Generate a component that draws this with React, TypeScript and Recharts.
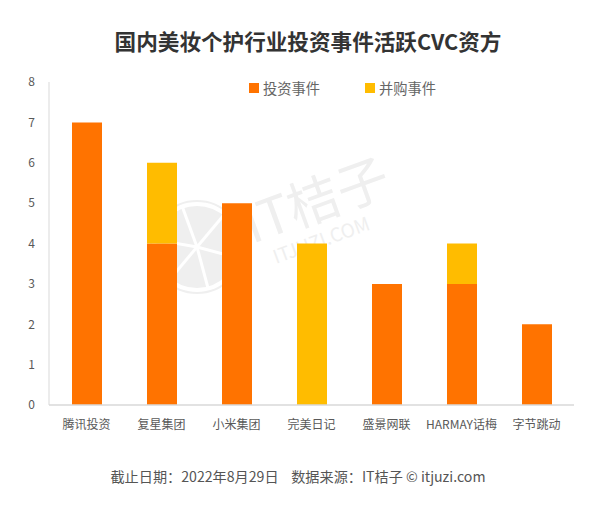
import React from "react";
import { BarChart, Bar, XAxis, YAxis } from "recharts";

const categories = ["腾讯投资", "复星集团", "小米集团", "完美日记", "盛景网联", "HARMAY话梅", "字节跳动"];
const investValues = [7, 4, 5, 0, 3, 3, 2];
const acquireValues = [0, 2, 0, 4, 0, 1, 0];
const yTicks = [0, 1, 2, 3, 4, 5, 6, 7, 8];
const seriesNames = ["投资事件", "并购事件"];
const seriesColors = ["#FF7300", "#FFBC00"];
const titleText = "国内美妆个护行业投资事件活跃CVC资方";
const footerText = "截止日期：2022年8月29日    数据来源：IT桔子 © itjuzi.com";
const watermarkMain = "IT桔子";
const watermarkSub = "ITJUZI.COM";
const wedgeAngles = [15, 75, 130, 190, 250, 310];

const data = categories.map((name, i) => ({ name, invest: investValues[i], acquire: acquireValues[i] }));
const font = "'Noto Sans CJK SC','Noto Sans',sans-serif";
const axisText = { fontSize: 12, fill: "#595959", fontFamily: font };

function Watermark() {
  const cx = 197, cy = 247;
  return (
    <svg width={602} height={517} style={{ position: "absolute", left: 0, top: 0 }}>
      <circle cx={cx} cy={cy} r={46} fill="none" stroke="#efefef" strokeWidth={2} />
      <circle cx={cx} cy={cy} r={41} fill="#efefef" />
      {wedgeAngles.map((a) => (
        <line key={a} x1={cx} y1={cy} x2={cx + 44 * Math.cos((a * Math.PI) / 180)} y2={cy + 44 * Math.sin((a * Math.PI) / 180)} stroke="#fff" strokeWidth={3} />
      ))}
      <text x={252} y={244} fontSize={52} fill="#efefef" fontFamily={font} transform="rotate(-20 252 244)">{watermarkMain}</text>
      <text x={276} y={264} fontSize={19} fill="#efefef" fontFamily={font} transform="rotate(-20 276 264)">{watermarkSub}</text>
    </svg>
  );
}

export default function App() {
  return (
    <div style={{ position: "absolute", left: 0, top: 0, width: 602, height: 517, background: "#fff", fontFamily: font, overflow: "hidden" }}>
      <Watermark />
      <div style={{ position: "absolute", left: 7, width: 602, top: 26, textAlign: "center", fontSize: 21.6, fontWeight: 700, color: "#333", lineHeight: "30px", whiteSpace: "nowrap" }}>{titleText}</div>
      <div style={{ position: "absolute", left: -3, width: 602, top: 465, textAlign: "center", fontSize: 14.15, color: "#555", lineHeight: "22px", whiteSpace: "pre" }}>{footerText}</div>
      <div style={{ position: "absolute", left: 249, top: 78, display: "flex", fontSize: 14.25, color: "#666", lineHeight: "20px" }}>
        {seriesNames.map((n, i) => (
          <div key={n} style={{ display: "flex", alignItems: "center", width: 116 }}>
            <span style={{ width: 10, height: 10, background: seriesColors[i], marginRight: 4 }} />{n}
          </div>
        ))}
      </div>
      <BarChart width={602} height={517} data={data} margin={{ top: 82, right: 28, bottom: 82, left: 0 }} barSize={30} style={{ position: "absolute", left: 0, top: 0 }}>
        <XAxis dataKey="name" interval={0} height={30} tickLine={false} axisLine={{ stroke: "#d9d9d9", strokeWidth: 1.5 }} tick={axisText} tickMargin={9} />
        <YAxis width={49} domain={[0, 8]} ticks={yTicks} tickLine={false} axisLine={{ stroke: "#d9d9d9" }} tick={axisText} tickMargin={8} />
        <Bar dataKey="invest" stackId="a" fill={seriesColors[0]} isAnimationActive={false} />
        <Bar dataKey="acquire" stackId="a" fill={seriesColors[1]} isAnimationActive={false} />
      </BarChart>
    </div>
  );
}
